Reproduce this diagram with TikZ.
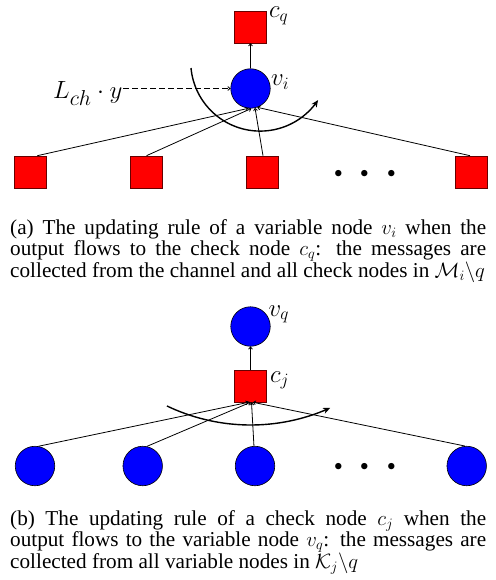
\documentclass[tikz,border=0pt]{standalone}
\usepackage{fontspec}
\setmainfont{Liberation Serif}
\usetikzlibrary{arrows.meta}
\DeclareMathSizes{23}{23}{18}{14}
\begin{document}
\begin{tikzpicture}[x=1pt,y=-1pt,
  chk/.style={draw=red!40!black, fill=red, minimum size=32pt, inner sep=0pt, line width=0.6pt},
  var/.style={draw=black, fill=blue, circle, minimum size=39.5pt, inner sep=0pt, line width=0.6pt},
  lbl/.style={anchor=base west, inner sep=0pt, font=\fontsize{23}{23}\selectfont},
  edge/.style={line width=0.8pt, -{To[length=3pt,width=4.5pt]}},
  flow/.style={line width=1.4pt, -{Stealth[length=7pt,width=6pt,inset=2pt]}},
  chan/.style={line width=0.8pt, dash pattern=on 6pt off 3pt, -{To[length=3pt,width=4.5pt]}},
  capt/.style={anchor=base west, inner sep=0pt, text width=476pt, align=justify, font=\fontsize{21.2}{21.4}\selectfont},
  ellip/.style={inner sep=0pt, font=\fontsize{24.88}{24.88}\selectfont}]
\useasboundingbox (0,0) rectangle (495,580);
% ---------- panel (a) ----------
\node[chk] (cq) at (250.5,27) {};
\node[lbl] (cql) at (269,18) {$c_q$};
\node[var] (vi) at (250.5,88.5) {};
\node[lbl] (vil) at (271,86) {$v_i$};
\node[lbl] (lch) at (53,99) {$L_{\scalebox{1.25}{$\scriptstyle ch$}}\cdot y$};
\draw[edge] (vi) -- (cq);
\draw[chan] ([xshift=1pt]lch.east |- vi) -- (vi.west);
\node[chk] (a1) at (30.5,172) {};
\node[chk] (a2) at (146.5,172) {};
\node[chk] (a3) at (262,172) {};
\node[chk] (a4) at (471,172) {};
\node[ellip] (adots) at (365,175) {\scalebox{2.4}{$\cdots$}};
\draw[edge] (a1.north east) ++(-9.5pt,0) -- (vi.-97);
\draw[edge] (a2.north) -- (vi.-88);
\draw[edge] ([xshift=1pt]a3.north) -- (vi.-77);
\draw[edge] ([xshift=-1pt]a4.north) -- (vi.-70);
\draw[flow] plot[domain=174.7:33.6, samples=60, variable=\t] ({260.2+69.5*cos(\t)},{61.6+69.5*sin(\t)});
\node[capt] (capa) at (10,234) {(a) The updating rule of a variable node $v_i$ when the\linebreak output flows to the check node $c_q$: the messages are\linebreak collected from the channel and all check nodes in $\mathcal{M}_i\backslash q$};
% ---------- panel (b) ----------
\node[var] (vq) at (250.5,326.5) {};
\node[lbl] (vql) at (268.5,316) {$v_q$};
\node[chk] (cj) at (250.5,386) {};
\node[lbl] (cjl) at (270,382) {$c_j$};
\draw[edge] (cj) -- (vq);
\node[var] (b1) at (35,466) {};
\node[var] (b2) at (142.7,466) {};
\node[var] (b3) at (255,466) {};
\node[var] (b4) at (466.7,466) {};
\node[ellip] (bdots) at (365,468) {\scalebox{2.4}{$\cdots$}};
\draw[edge] (b1.80) -- ([xshift=-2pt]cj.south);
\draw[edge] (b2.78) -- (cj.south);
\draw[edge] (b3.93) -- ([xshift=1pt]cj.south);
\draw[edge] (b4.95) -- ([xshift=2.5pt]cj.south);
\draw[flow] plot[domain=115.6:65.8, samples=60, variable=\t] ({250.7+193.8*cos(\t)},{231.2+193.8*sin(\t)});
\node[capt] (capb) at (10,525) {(b) The updating rule of a check node $c_j$ when the\linebreak output flows to the variable node $v_q$: the messages are\linebreak collected from all variable nodes in $\mathcal{K}_j\backslash q$};
\end{tikzpicture}
\end{document}
